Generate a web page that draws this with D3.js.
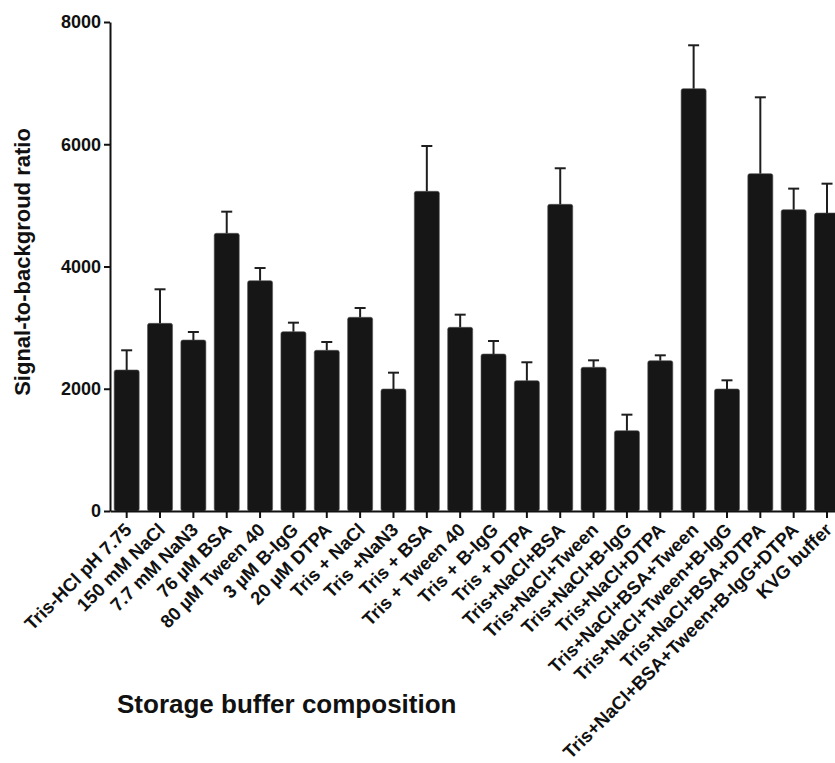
<!DOCTYPE html>
<html>
<head>
<meta charset="utf-8">
<script src="https://cdn.jsdelivr.net/npm/d3@7"></script>
<style>
  body { margin: 0; background: #fff; }
  svg { font-family: "Liberation Sans", Arial, sans-serif; font-weight: bold; }
</style>
</head>
<body>
<svg></svg>
<script>
// buffer compositions, mean ratio and upper error (SD)
var buffers = [
  'Tris-HCl pH 7.75', '150 mM NaCl', '7.7 mM NaN3', '76 \u00b5M BSA', '80 \u00b5M Tween 40',
  '3 \u00b5M B-IgG', '20 \u00b5M DTPA', 'Tris + NaCl', 'Tris +NaN3', 'Tris + BSA',
  'Tris + Tween 40', 'Tris + B-IgG', 'Tris + DTPA', 'Tris+NaCl+BSA', 'Tris+NaCl+Tween',
  'Tris+NaCl+B-IgG', 'Tris+NaCl+DTPA', 'Tris+NaCl+BSA+Tween', 'Tris+NaCl+Tween+B-IgG',
  'Tris+NaCl+BSA+DTPA', 'Tris+NaCl+BSA+Tween+B-IgG+DTPA', 'KVG buffer'
];
var means = [2307, 3070, 2797, 4543, 3768, 2934, 2629, 3169, 1996, 5230,
             3005, 2568, 2132, 5017, 2351, 1314, 2459, 6910, 1996, 5519, 4930, 4875];
var errs  = [322, 557, 131, 354, 207, 147, 136, 152, 267, 741,
             207, 213, 301, 590, 114, 262, 88, 709, 142, 1249, 344, 480];
var yTicks = [0, 2000, 4000, 6000, 8000];

var data = buffers.map((b, i) => ({ name: b, mean: means[i], err: errs[i] }));

const W = 835, H = 763;
const margin = { top: 22, left: 110 };
const plotH = 489;

var svg = d3.select('svg').attr('width', W).attr('height', H);
var g = svg.append('g').attr('transform', `translate(${margin.left},${margin.top})`);

const x = d3.scaleBand()
  .domain(buffers)
  .range([0, 22 * 33.35])
  .paddingInner(0.25)
  .paddingOuter(0.125);

const y = d3.scaleLinear().domain([0, 8000]).range([plotH, 0]);

// bars
g.selectAll('rect.bar')
  .data(data)
  .enter().append('rect')
    .attr('class', 'bar')
    .attr('x', d => x(d.name))
    .attr('y', d => y(d.mean))
    .attr('width', x.bandwidth())
    .attr('height', d => plotH - y(d.mean))
    .attr('rx', 2)
    .attr('fill', '#161616')
    .attr('stroke', '#555')
    .attr('stroke-width', 0.6);

// error bars (upper only)
var eb = g.selectAll('g.err').data(data).enter().append('g').attr('class', 'err')
  .attr('stroke', '#1e1e1e').attr('stroke-width', 2);
eb.append('line')
  .attr('x1', d => x(d.name) + x.bandwidth() / 2)
  .attr('x2', d => x(d.name) + x.bandwidth() / 2)
  .attr('y1', d => y(d.mean))
  .attr('y2', d => y(d.mean + d.err));
eb.append('line')
  .attr('x1', d => x(d.name) + x.bandwidth() / 2 - 5.5)
  .attr('x2', d => x(d.name) + x.bandwidth() / 2 + 5.5)
  .attr('y1', d => y(d.mean + d.err))
  .attr('y2', d => y(d.mean + d.err));

// y axis
var yAxis = g.append('g')
  .call(d3.axisLeft(y).tickValues(yTicks).tickFormat(d3.format('d'))
    .tickSize(6).tickSizeOuter(0).tickPadding(3));
yAxis.select('.domain').attr('stroke', '#111').attr('stroke-width', 2);
yAxis.selectAll('.tick line').attr('stroke', '#111').attr('stroke-width', 2);
yAxis.selectAll('.tick text').attr('font-size', 18).attr('font-weight', 'bold')
  .attr('fill', '#111').attr('font-family', '"Liberation Sans", Arial, sans-serif');

// x axis
var xAxis = g.append('g')
  .attr('transform', `translate(0,${plotH})`)
  .call(d3.axisBottom(x).tickSize(7).tickSizeOuter(0));
xAxis.select('.domain').attr('stroke', '#111').attr('stroke-width', 2);
xAxis.selectAll('.tick line').attr('stroke', '#111').attr('stroke-width', 2);
xAxis.selectAll('.tick text')
  .attr('font-size', 18.5).attr('font-weight', 'bold').attr('fill', '#111')
  .attr('font-family', '"Liberation Sans", Arial, sans-serif')
  .attr('text-anchor', 'end')
  .attr('dy', null).attr('y', 0)
  .attr('transform', 'translate(6,20) rotate(-45)');

// axis titles
svg.append('text')
  .attr('transform', `translate(30,262) rotate(-90)`)
  .attr('text-anchor', 'middle')
  .attr('font-size', 22)
  .attr('fill', '#111')
  .text('Signal-to-backgroud ratio');

svg.append('text')
  .attr('x', 117).attr('y', 713)
  .attr('font-size', 26)
  .attr('fill', '#111')
  .text('Storage buffer composition');
</script>
</body>
</html>
